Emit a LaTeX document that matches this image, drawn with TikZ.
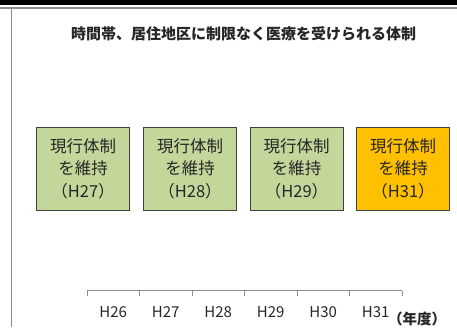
\documentclass[tikz,border=0pt]{standalone}
\usepackage{fontspec}
\setmainfont{Noto Sans CJK JP}
\usetikzlibrary{positioning}
\definecolor{gg}{RGB}{196, 215, 155}
\definecolor{oo}{RGB}{255, 192, 0}
\definecolor{ln}{RGB}{64, 64, 64}
\definecolor{ax}{RGB}{140, 140, 140}
\definecolor{tx}{RGB}{38, 38, 38}
\def\bw{93pt}
\def\bh{83pt}
\def\axy{290.5}
\newcommand{\planbox}[4]{\node[minimum height=\bh,minimum width=\bw,draw=ln,line width=0.9pt,fill=#4,text=tx,align=center,inner sep=0pt,font=\fontsize{16.5}{22.5}\selectfont] (#2) at (#1,168.5) {現行体制\\を維持\\（#3）};}
\newcommand{\yeartick}[2]{\coordinate (#1) at (#2,\axy);
	\draw[ax,line width=0.8pt] (#1) -- ++(0,5);}
\newcommand{\yearlabel}[3]{\node[text=tx,font=\fontsize{15}{15}\selectfont,inner sep=0pt,anchor=base] (#1) at (#2,317) {#3};}

\begin{document}
\begin{tikzpicture}[x=1pt,y=-1pt]
\useasboundingbox (0,0) rectangle (457,327);
\fill[black] (0,0) rectangle (457,5);
\draw[ax,line width=1.2pt] (0,8) -- (457,8);
\draw[ax,line width=1.4pt] (11.5,8) -- (11.5,327);

\node[text=tx,font=\bfseries\fontsize{15}{15}\selectfont] (title) at (243.5,33.5) {時間帯、居住地区に制限なく医療を受けられる体制};

\planbox{83}{h27}{H27}{gg}
\planbox{190}{h28}{H28}{gg}
\planbox{296.5}{h29}{H29}{gg}
\planbox{403}{h31}{H31}{oo}

\yeartick{t0}{87}
\yeartick{t1}{139.5}
\yeartick{t2}{192}
\yeartick{t3}{244.5}
\yeartick{t4}{297}
\yeartick{t5}{349.5}
\yeartick{t6}{402}
\draw[ax,line width=0.8pt] (t0) -- (t6);

\yearlabel{y26}{113.25}{H26}
\yearlabel{y27}{165.75}{H27}
\yearlabel{y28}{218.25}{H28}
\yearlabel{y29}{270.75}{H29}
\yearlabel{y30}{323.25}{H30}
\yearlabel{y31}{375.75}{H31}
\node[text=tx,font=\bfseries\fontsize{14.5}{14.5}\selectfont,inner sep=0pt,anchor=base west] (unit) at (388,324) {（年度）};
\end{tikzpicture}
\end{document}
